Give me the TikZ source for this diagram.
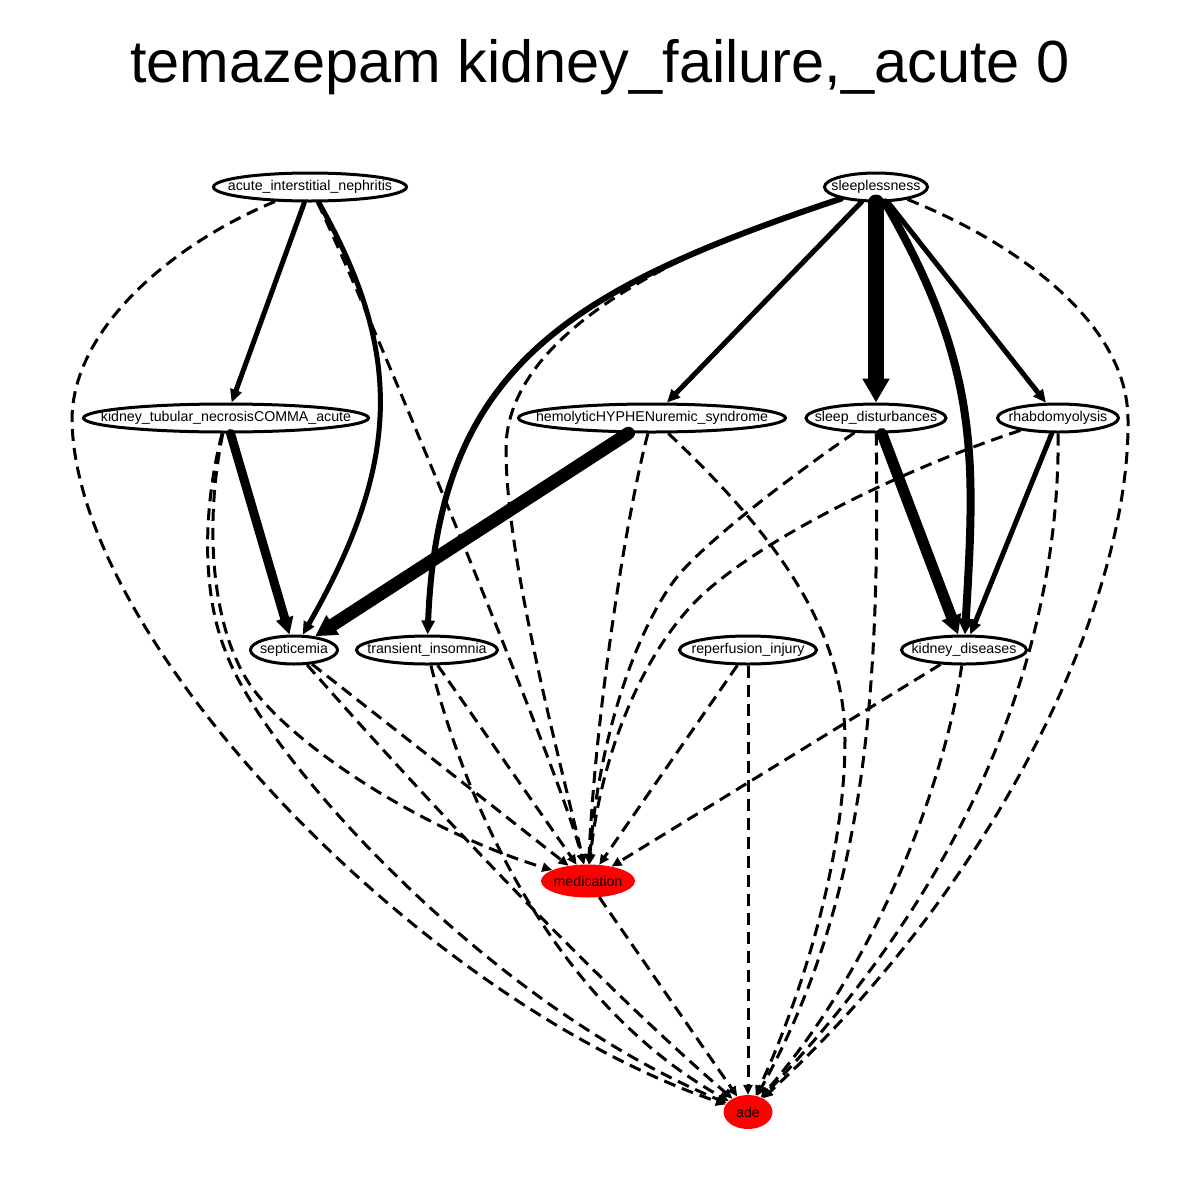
\documentclass[tikz,border=0pt]{standalone}
\usepackage{fontspec}
\setmainfont{Liberation Sans}
\usetikzlibrary{shapes.geometric,arrows.meta}
\definecolor{adered}{RGB}{255,0,0}
\newcommand{\nm}[1]{\makebox[0pt]{#1}}

\begin{document}
\begin{tikzpicture}[x=1pt,y=-1pt,
  term/.style={ellipse,draw,line width=3pt,inner sep=0pt,minimum height=28pt,font=\fontsize{14.2}{16}\selectfont},
  target/.style={ellipse,fill=adered,inner sep=0pt,font=\fontsize{14.2}{16}\selectfont},
  solidarc/.style={line width=#1pt,line cap=round,-{Triangle[length=8pt 1,width=5pt 1.3]}},
  dasharc/.style={line width=3pt,dash pattern=on 12pt off 7pt,-{Triangle[length=10pt,width=9pt]}}]
\fill[white] (0,0) rectangle (1200,1200);
\useasboundingbox (0,0) rectangle (1200,1200);

% Title
\node[anchor=base,font=\fontsize{59.5}{70}\selectfont] (title) at (600,82) {temazepam kidney\_failure,\_acute 0};

% Terms
\foreach \id/\x/\y/\w/\txt in {aic/310/187/193/acute\_interstitial\_nephritis, slp/876/187/103/sleeplessness,
    ktn/226/418/285/kidney\_tubular\_necrosisCOMMA\_acute, hus/652/418/267/hemolyticHYPHENuremic\_syndrome,
    sd/876/418/140/sleep\_disturbances, rh/1058/418/121/rhabdomyolysis,
    sep/294/650/87/septicemia, ti/427/650/141/transient\_insomnia,
    rp/748/650/137/reperfusion\_injury, kd/964/650/125/kidney\_diseases} {
    \node[term,minimum width=\w pt] (\id) at (\x,\y) {\nm{\txt}};
}
\node[target,minimum width=94pt,minimum height=33pt] (med) at (588,881) {\nm{medication}};
\node[target,minimum width=49pt,minimum height=34pt] (ade) at (748,1112) {\nm{ade}};

% Solid links
\foreach \a/\b/\w in {aic/ktn/5, slp/hus/5, slp/sd/16, slp/rh/5, ktn/sep/9, hus/sep/13, sd/kd/11, rh/kd/5}
    \draw[solidarc=\w] (\a) -- (\b);
\draw[solidarc=5] (aic) .. controls (404,353) and (401,463) .. (sep);
\draw[solidarc=8] (slp) .. controls (981,368) and (975,462) .. (kd);
\draw[solidarc=6] (slp) .. controls (567,290) and (438,368) .. (ti);

% Dashed links to medication
\foreach \a/\b in {kd/med, rp/med, sep/med, ti/med, med/ade, rp/ade}
    \draw[dasharc] (\a) -- (\b);
\draw[dasharc] (aic) .. controls (360,290) and (560,770) .. (med);
\draw[dasharc] (slp) .. controls (690,245) and (505,330) .. (506,450) .. controls (506,560) and (560,760) .. (med);
\draw[dasharc] (hus) .. controls (625,520) and (595,720) .. (med);
\draw[dasharc] (sd) .. controls (800,470) and (720,530) .. (683,570) .. controls (646,610) and (600,720) .. (med);
\draw[dasharc] (rh) .. controls (900,470) and (760,540) .. (700,597) .. controls (640,655) and (600,760) .. (med);
\draw[dasharc] (ktn) .. controls (205,520) and (210,620) .. (247,680) .. controls (284,740) and (420,830) .. (med);

% Dashed links to ade
\draw[dasharc] (sep) .. controls (360,725) and (560,950) .. (ade);
\draw[dasharc] (ti) .. controls (465,800) and (550,1000) .. (ade);
\draw[dasharc] (ktn) .. controls (200,520) and (205,600) .. (225,650) .. controls (260,750) and (480,1000) .. (ade);
\draw[dasharc] (aic) .. controls (170,245) and (72,330) .. (72,420) .. controls (75,640) and (420,1000) .. (ade);
\draw[dasharc] (hus) .. controls (760,520) and (845,620) .. (845,740) .. controls (845,860) and (800,1000) .. (ade);
\draw[dasharc] (sd) .. controls (880,700) and (865,900) .. (ade);
\draw[dasharc] (kd) .. controls (945,780) and (880,960) .. (ade);
\draw[dasharc] (rh) .. controls (1060,650) and (970,880) .. (ade);
\draw[dasharc] (slp) .. controls (1010,240) and (1128,320) .. (1128,420) .. controls (1130,600) and (1000,880) .. (ade);
\end{tikzpicture}
\end{document}
